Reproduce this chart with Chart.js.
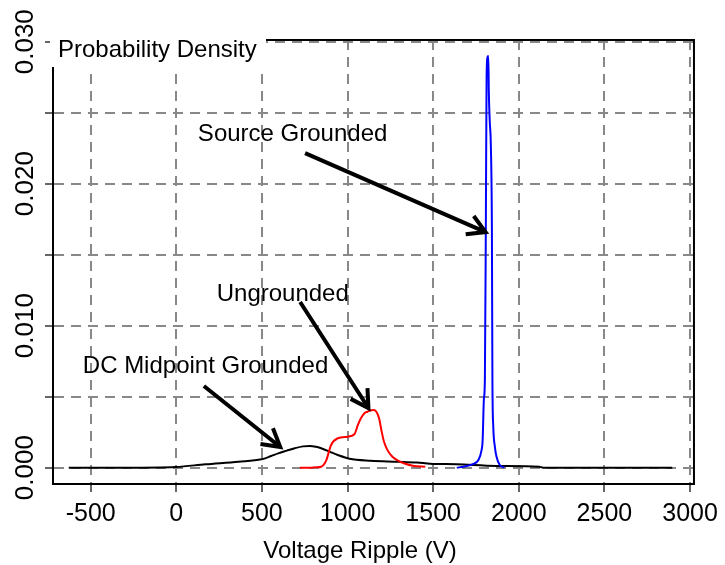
<!DOCTYPE html>
<html>
<head>
<meta charset="utf-8">
<script src="https://cdn.jsdelivr.net/npm/chart.js@4.4.1/dist/chart.umd.min.js"></script>
<style>
  body { margin: 0; background: #fff; }
  #wrap { width: 725px; height: 565px; }
</style>
</head>
<body>
<div id="wrap"><canvas id="densityChart"></canvas></div>
<script>
// values (voltage ripple in V, density)
const dcMidX = [-628, -300, -3, 170, 363, 498, 550, 595, 645, 692, 740, 779, 815, 846, 900, 943, 1011, 1136, 1290, 1406, 1482, 1638, 1870, 2119, 2142, 2896];
const dcMidY = [0, 0, 0.00005, 0.00024, 0.00042, 0.00059, 0.0008, 0.00101, 0.0012, 0.00137, 0.0015, 0.00153, 0.00148, 0.00137, 0.0011, 0.00089, 0.00063, 0.00049, 0.00042, 0.00036, 0.00028, 0.00024, 0.00012, 0.00007, 0, 0];

const ungroundedX = [721, 780, 815, 846, 875, 904, 943, 1001, 1040, 1060, 1078, 1100, 1117, 1140, 1155, 1170, 1184, 1200, 1213, 1235, 1262, 1295, 1329, 1387, 1454];
const ungroundedY = [0, 0, 0.00003, 0.00007, 0.0005, 0.0016, 0.00207, 0.00218, 0.00235, 0.003, 0.00348, 0.00385, 0.00394, 0.00405, 0.00406, 0.0039, 0.00348, 0.0025, 0.00183, 0.0012, 0.00077, 0.0005, 0.00031, 0.00012, 0.00007];

const sourceX = [1638, 1677, 1735, 1764, 1782, 1789, 1796, 1802, 1808, 1812, 1817, 1822, 1825, 1830, 1837, 1843, 1846, 1851, 1860, 1870, 1889, 1916];
const sourceY = [0, 0.00007, 0.00026, 0.00054, 0.0012, 0.00195, 0.00477, 0.0062, 0.018, 0.0275, 0.0289, 0.029, 0.0265, 0.0245, 0.0226, 0.0167, 0.0062, 0.0029, 0.0015, 0.00077, 0.00019, 0];

const xTicks = [-500, 0, 500, 1000, 1500, 2000, 2500, 3000];
const yTicks = [0, 0.005, 0.010, 0.015, 0.020, 0.025, 0.030];
const yLabels = [0, 0.010, 0.020, 0.030];

// labels with arrows, in data coordinates
const notes = [
    { text: "Source Grounded", x: 126, y: 0.0235, from: [752, 0.02215], to: [1806, 0.01659] },
    { text: "Ungrounded", x: 236, y: 0.0122, from: [723, 0.01167], to: [1122, 0.0042] },
    { text: "DC Midpoint Grounded", x: -546, y: 0.0071, from: [161, 0.00575], to: [607, 0.00146] }
];

const FONT = "'Liberation Sans', Arial, sans-serif";

function toPoints(xs, ys) {
    return xs.map((v, i) => ({ x: v, y: ys[i] }));
}

function drawArrow(ctx, x1, y1, x2, y2) {
    const ang = Math.atan2(y2 - y1, x2 - x1);
    const head = 20, spread = Math.PI / 6;
    ctx.beginPath();
    ctx.moveTo(x1, y1);
    ctx.lineTo(x2, y2);
    ctx.moveTo(x2 - head * Math.cos(ang - spread), y2 - head * Math.sin(ang - spread));
    ctx.lineTo(x2, y2);
    ctx.lineTo(x2 - head * Math.cos(ang + spread), y2 - head * Math.sin(ang + spread));
    ctx.stroke();
}

const overlay = {
    id: 'overlay',
    afterDraw(chart) {
        const { ctx, chartArea: a, scales: { x, y } } = chart;
        ctx.save();

        // top and right sides of the box
        ctx.strokeStyle = '#000';
        ctx.lineWidth = 2;
        ctx.beginPath();
        ctx.moveTo(a.left, a.top);
        ctx.lineTo(a.right, a.top);
        ctx.lineTo(a.right, a.bottom);
        ctx.stroke();

        // rotated y tick labels
        ctx.fillStyle = '#000';
        ctx.font = '26px ' + FONT;
        ctx.textAlign = 'center';
        ctx.textBaseline = 'alphabetic';
        yLabels.forEach(v => {
            ctx.save();
            ctx.translate(33, y.getPixelForValue(v));
            ctx.rotate(-Math.PI / 2);
            ctx.fillText(v.toFixed(3), 0, 0);
            ctx.restore();
        });

        // x axis title, centred a little left of the plot centre like the original
        ctx.font = '24px ' + FONT;
        ctx.textBaseline = 'middle';
        ctx.fillText('Voltage Ripple (V)', 360, 551);

        // annotations
        ctx.textAlign = 'left';
        ctx.lineWidth = 4;
        ctx.lineJoin = 'miter';
        notes.forEach(n => {
            ctx.fillText(n.text, x.getPixelForValue(n.x), y.getPixelForValue(n.y));
            drawArrow(ctx,
                x.getPixelForValue(n.from[0]), y.getPixelForValue(n.from[1]),
                x.getPixelForValue(n.to[0]), y.getPixelForValue(n.to[1]));
        });

        // y axis title sitting in a white box over the corner
        ctx.fillStyle = '#fff';
        ctx.fillRect(50, 28, 216, 39);
        ctx.fillStyle = '#000';
        ctx.textBaseline = 'alphabetic';
        ctx.fillText('Probability Density', 58, 57);
        ctx.restore();
    }
};

const gridStyle = {
    color: '#888',
    lineWidth: 2,
    tickLength: 8,
    tickColor: '#666',
    tickWidth: 2,
    tickBorderDash: []
};
const borderStyle = { display: true, color: '#000', width: 2, dash: [10, 7] };

new Chart(document.getElementById('densityChart'), {
    type: 'line',
    data: {
        datasets: [
            { label: 'DC Midpoint Grounded', data: toPoints(dcMidX, dcMidY), borderColor: '#000', order: 3 },
            { label: 'Ungrounded', data: toPoints(ungroundedX, ungroundedY), borderColor: '#ff0000', order: 2 },
            { label: 'Source Grounded', data: toPoints(sourceX, sourceY), borderColor: '#0000ff', order: 1 }
        ]
    },
    options: {
        responsive: true,
        maintainAspectRatio: false,
        animation: false,
        layout: { padding: { top: 40, right: 26, left: 0, bottom: 0 } },
        elements: {
            point: { radius: 0 },
            line: { borderWidth: 2, cubicInterpolationMode: 'monotone', fill: false }
        },
        plugins: { legend: { display: false }, tooltip: { enabled: false } },
        scales: {
            x: {
                type: 'linear',
                min: -720,
                max: 3023,
                z: 1,
                afterBuildTicks: s => { s.ticks = xTicks.map(v => ({ value: v })); },
                afterFit: s => { s.height = 81; },
                grid: gridStyle,
                border: borderStyle,
                ticks: { color: '#000', font: { family: FONT, size: 25 }, padding: 7, maxRotation: 0, autoSkip: false, callback: v => String(v) }
            },
            y: {
                type: 'linear',
                min: -0.00115,
                max: 0.03012,
                z: 1,
                afterBuildTicks: s => { s.ticks = yTicks.map(v => ({ value: v })); },
                afterFit: s => { s.width = 53; },
                grid: gridStyle,
                border: borderStyle,
                ticks: { display: false }
            }
        }
    },
    plugins: [overlay]
});
</script>
</body>
</html>
